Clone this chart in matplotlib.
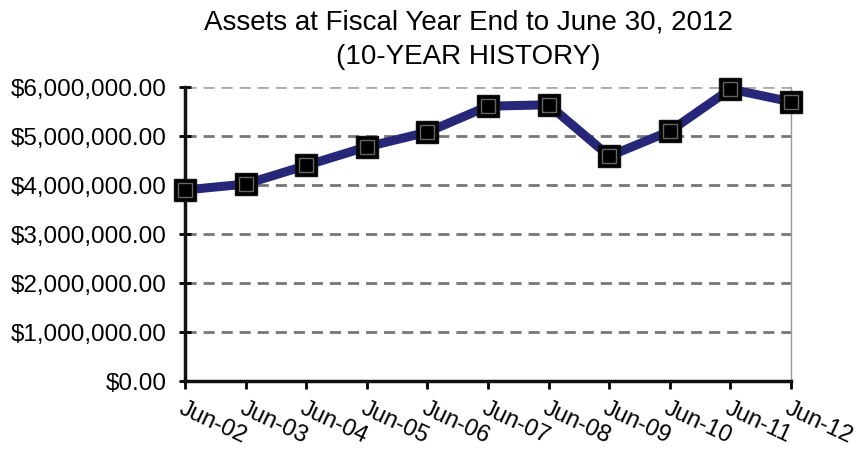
import matplotlib
matplotlib.use("Agg")
import matplotlib.pyplot as plt
from matplotlib.ticker import FuncFormatter

plt.rcParams['font.family'] = ['Liberation Sans', 'DejaVu Sans']

categories = ["Jun-02", "Jun-03", "Jun-04", "Jun-05", "Jun-06", "Jun-07",
              "Jun-08", "Jun-09", "Jun-10", "Jun-11", "Jun-12"]
assets = [3900000, 4020000, 4400000, 4780000, 5080000, 5610000,
          5640000, 4590000, 5100000, 5960000, 5700000]
yticks = [0, 1000000, 2000000, 3000000, 4000000, 5000000, 6000000]

fig = plt.figure(figsize=(8.64, 4.49), dpi=100)
ax = fig.add_axes([0.214, 0.1514, 0.7015, 0.6546])

x = list(range(len(categories)))
ax.plot(x, assets, color='#27277a', linewidth=6.5, zorder=3, solid_joinstyle='round')
ax.plot(x, assets, linestyle='none', marker='s', markersize=16.5,
        markerfacecolor='black', markeredgecolor='#111111', zorder=4, clip_on=False)
ax.plot(x, assets, linestyle='none', marker='s', markersize=10,
        markerfacecolor='none', markeredgecolor='#666666', markeredgewidth=1, zorder=5,
        clip_on=False)

ax.set_xlim(0, len(categories) - 1)
ax.set_ylim(0, 6000000)
ax.set_yticks(yticks)
ax.yaxis.set_major_formatter(FuncFormatter(lambda v, p: "${:,.2f}".format(v)))
ax.set_xticks(x)
ax.set_xticklabels(categories, rotation=-25, ha='left', va='top', rotation_mode='anchor')

for v in yticks[1:-1]:
    ax.axhline(v, color='#777777', linestyle=(0, (4, 2.5)), linewidth=2, zorder=1)
ax.axhline(6000000, color='#aaaaaa', linestyle=(0, (4, 2.5)), linewidth=2, zorder=1)

ax.spines['top'].set_visible(False)
ax.spines['right'].set_color('#999999')
ax.spines['right'].set_linewidth(1)
ax.spines['left'].set_linewidth(2.5)
ax.spines['bottom'].set_linewidth(2.5)
ax.spines['left'].set_color('#111111')
ax.spines['bottom'].set_color('#111111')

ax.tick_params(axis='y', direction='inout', length=8, width=2, labelsize=17.5, pad=9)
ax.tick_params(axis='x', direction='out', length=6, width=2, labelsize=17, pad=6)

fig.suptitle("Assets at Fiscal Year End to June 30, 2012\n(10-YEAR HISTORY)",
             fontsize=20, x=0.542, y=0.978, va='top', linespacing=1.4)

fig.savefig("out.png", dpi=100)
